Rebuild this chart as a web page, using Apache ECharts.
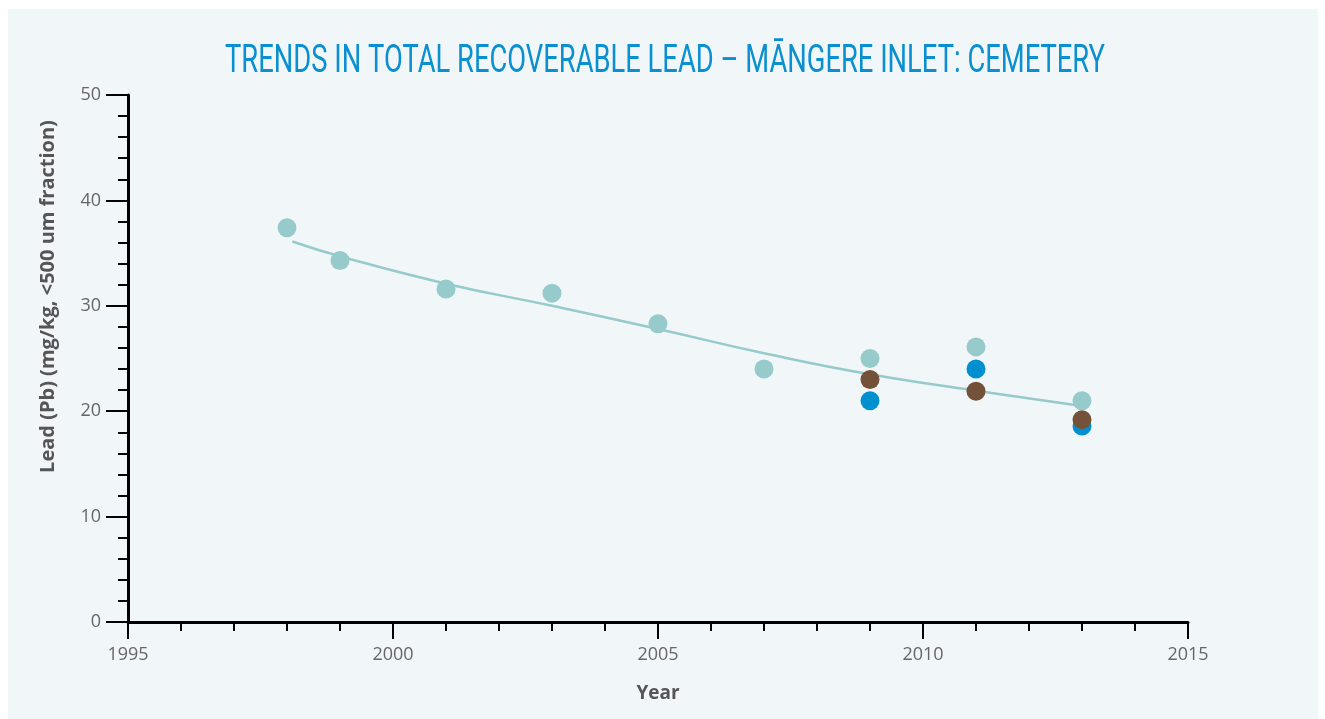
<!DOCTYPE html>
<html>
<head>
<meta charset="utf-8">
<script src="https://cdn.jsdelivr.net/npm/echarts@6/dist/echarts.min.js"></script>
<style>
  html, body { margin: 0; padding: 0; background: #fff; }
  #chart { position: absolute; left: 8px; top: 9px; width: 1310px; height: 710px; }
</style>
</head>
<body>
<div id="chart"></div>
<script>
// values
var years = [1998, 1999, 2001, 2003, 2005, 2007, 2009, 2011, 2013];
var tealValues = [37.4, 34.3, 31.6, 31.2, 28.3, 24.0, 25.0, 26.1, 21.0];
var blueYears = [2009, 2011, 2013];
var blueValues = [21.0, 24.0, 18.6];
var brownYears = [2009, 2011, 2013];
var brownValues = [23.0, 21.9, 19.2];
var trendYears = [1998.1, 1999, 2001, 2003, 2005, 2007, 2009, 2011, 2013];
var trendValues = [36.1, 34.7, 32.1, 30.0, 27.8, 25.5, 23.5, 21.95, 20.5];

var titleText = 'TRENDS IN TOTAL RECOVERABLE LEAD \u2013 M\u0100NGERE INLET: CEMETERY';
var titleFont = 'normal 38px Roboto';

function pairs(xs, ys) {
  return xs.map(function (x, i) { return [x, ys[i]]; });
}

// the original title uses a narrow display face: squeeze Roboto to the same width
var ctx = document.createElement('canvas').getContext('2d');
ctx.font = titleFont;
var titleScale = 880 / ctx.measureText(titleText).width;

var chart = echarts.init(document.getElementById('chart'));

var option = {
  backgroundColor: '#f1f6f9',
  animation: false,
  graphic: [
    {
      type: 'text',
      x: 657,
      y: 53,
      scaleX: titleScale,
      style: {
        text: titleText,
        font: titleFont,
        fill: '#0a8fd0',
        align: 'center',
        verticalAlign: 'middle'
      }
    }
  ],
  grid: { left: 120, right: 130, top: 86, bottom: 97 },
  xAxis: {
    type: 'value',
    min: 1995,
    max: 2015,
    interval: 5,
    name: 'Year',
    nameLocation: 'middle',
    nameGap: 62,
    nameTextStyle: { color: '#555', fontFamily: 'Open Sans', fontWeight: 'bold', fontSize: 19 },
    axisLine: { lineStyle: { color: '#000', width: 3 } },
    axisTick: { length: 17, lineStyle: { color: '#000', width: 2 } },
    minorTick: { show: true, splitNumber: 5, length: 9, lineStyle: { color: '#000', width: 2 } },
    axisLabel: {
      color: '#666', fontFamily: 'Open Sans', fontSize: 18, margin: 24,
      formatter: function (v) { return String(v); }
    },
    splitLine: { show: false }
  },
  yAxis: {
    type: 'value',
    min: 0,
    max: 50,
    interval: 10,
    name: 'Lead (Pb) (mg/kg, <500 um fraction)',
    nameLocation: 'middle',
    nameGap: 70,
    nameRotate: 90,
    nameTextStyle: { color: '#555', fontFamily: 'Open Sans', fontWeight: 'bold', fontSize: 20, padding: [0, 0, 0, 124] },
    axisLine: { show: true, lineStyle: { color: '#000', width: 3 } },
    axisTick: { show: true, length: 22, lineStyle: { color: '#000', width: 2 } },
    minorTick: { show: true, splitNumber: 5, length: 10, lineStyle: { color: '#000', width: 2 } },
    axisLabel: { color: '#666', fontFamily: 'Open Sans', fontSize: 18, margin: 27 },
    splitLine: { show: false }
  },
  series: [
    {
      name: 'Trend',
      type: 'line',
      data: pairs(trendYears, trendValues),
      smooth: true,
      showSymbol: false,
      symbol: 'none',
      lineStyle: { color: '#96cacb', width: 2.5 },
      z: 1
    },
    {
      name: 'Teal',
      type: 'scatter',
      data: pairs(years, tealValues),
      symbolSize: 19,
      itemStyle: { color: '#96cacb', opacity: 1 },
      z: 2
    },
    {
      name: 'Blue',
      type: 'scatter',
      data: pairs(blueYears, blueValues),
      symbolSize: 19,
      itemStyle: { color: '#0090d0', opacity: 1 },
      z: 3
    },
    {
      name: 'Brown',
      type: 'scatter',
      data: pairs(brownYears, brownValues),
      symbolSize: 19,
      itemStyle: { color: '#74523a', opacity: 1 },
      z: 4
    }
  ]
};

chart.setOption(option);
</script>
</body>
</html>
